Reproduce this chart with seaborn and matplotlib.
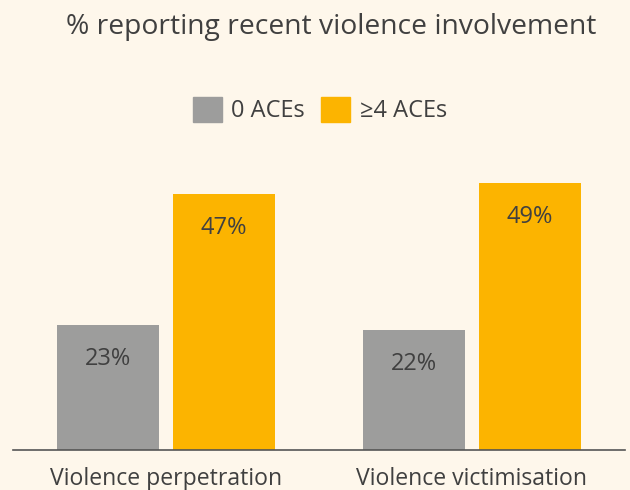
import pandas as pd
import seaborn as sns
import matplotlib.pyplot as plt

# values
categories = ['Violence perpetration', 'Violence victimisation']
groups = ['0 ACEs', '≥4 ACEs']
aces_0 = [23, 22]
aces_4 = [47, 49]

bg = '#FEF7EB'
txt = '#404040'
palette = {'0 ACEs': '#9D9D9C', '≥4 ACEs': '#FCB400'}

df = pd.DataFrame({
    'category': categories * 2,
    'group': [groups[0]] * 2 + [groups[1]] * 2,
    'pct': aces_0 + aces_4,
})

sns.set_style('white')
plt.rcParams['font.family'] = ['Open Sans', 'DejaVu Sans']

fig = plt.figure(figsize=(6.3, 4.9), dpi=100, facecolor=bg)
ax = fig.add_axes([13 / 630, 1 - 450 / 490, 612 / 630, 300 / 490])
ax.set_facecolor(bg)

sns.barplot(data=df, x='category', y='pct', hue='group', order=categories,
            hue_order=groups, palette=palette, width=0.76, gap=0.123,
            saturation=1, linewidth=0, ax=ax, legend=False)

# value labels inside bars
for p, v in zip(ax.patches, aces_0 + aces_4):
    ax.annotate(f'{v}%', (p.get_x() + p.get_width() / 2, p.get_height()),
                xytext=(0, -34), textcoords='offset pixels',
                ha='center', va='center', fontsize=17, color=txt)

ax.set_xlim(-0.5, 1.5)
ax.set_ylim(0, 55)
ax.set_xlabel('')
ax.set_ylabel('')
ax.set_yticks([])
for s in ['top', 'right', 'left']:
    ax.spines[s].set_visible(False)
ax.spines['bottom'].set_color('#555555')
ax.spines['bottom'].set_linewidth(1.2)
ax.tick_params(axis='x', which='major', length=0, pad=12, labelsize=16.6, labelcolor=txt)
ax.set_xticks([0.5], minor=True)
ax.tick_params(axis='x', which='minor', length=8, width=1.2, color='#555555')

# legend
handles = [plt.Rectangle((0, 0), 1, 1, color=palette[g]) for g in groups]
fig.legend(handles, groups, loc='center', bbox_to_anchor=(320 / 630, 1 - 110 / 490),
           ncol=2, frameon=False, fontsize=17, labelcolor=txt,
           handlelength=1.23, handleheight=1.23, handletextpad=0.42,
           columnspacing=0.68)

fig.text(331 / 630, 1 - 34 / 490, '% reporting recent violence involvement',
         ha='center', va='baseline', fontsize=20.3, color=txt)

fig.savefig('out.png', dpi=100, facecolor=bg)
